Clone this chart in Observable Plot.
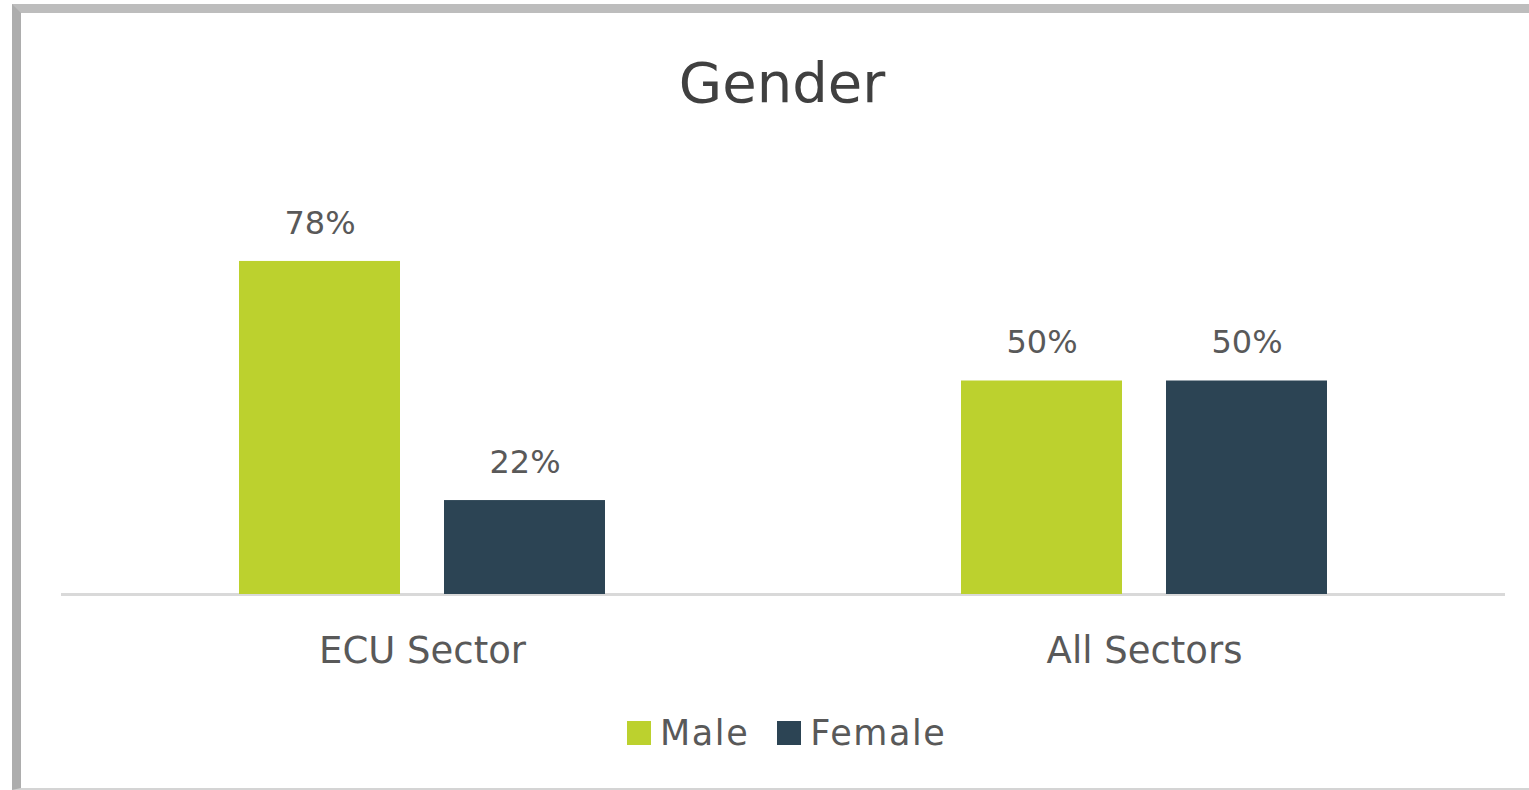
<!DOCTYPE html>
<html>
<head>
<meta charset="utf-8">
<script src="https://cdn.jsdelivr.net/npm/d3@7"></script>
<script src="https://cdn.jsdelivr.net/npm/@observablehq/plot@0.6"></script>
<style>
  body { margin: 0; background: #fff; width: 1529px; height: 790px; overflow: hidden; position: relative; font-family: "DejaVu Sans", sans-serif; }
  #frame { position: absolute; left: 12px; top: 4px; width: 1530px; height: 786px; box-sizing: border-box;
           border-top: 9px solid #bdbdbd; border-left: 9px solid #adadad; border-bottom: 2px solid #d4d4d4; }
  #title { position: absolute; left: 582px; top: 48px; width: 400px; text-align: center; font-size: 56px; color: #404040; line-height: 70px; }
  #chart { position: absolute; left: 0; top: 140px; }
  #legend { position: absolute; left: 627px; top: 712px; height: 42px; display: flex; align-items: center; font-size: 35px; color: #595959; letter-spacing: 1.6px; }
  .sw { width: 24px; height: 24px; display: inline-block; margin-right: 9px; }
  .item { display: flex; align-items: center; margin-right: 28px; }
</style>
</head>
<body>
<div id="frame"></div>
<div id="title">Gender</div>
<div id="chart"></div>
<div id="legend"></div>
<script>
const categories = ["ECU Sector", "All Sectors"];
const genders = ["Male", "Female"];
const maleValues = [78, 50];
const femaleValues = [22, 50];
const colors = ["#bcd12e", "#2c4454"];

const data = [];
categories.forEach((c, i) => {
  data.push({category: c, gender: "Male", value: maleValues[i]});
  data.push({category: c, gender: "Female", value: femaleValues[i]});
});

const chart = Plot.plot({
  width: 1529,
  height: 560,
  marginLeft: 60,
  marginRight: 24,
  marginTop: 27,
  marginBottom: 106,
  fx: {domain: categories, padding: 0, axis: null},
  x: {domain: genders, paddingInner: 0.2136, paddingOuter: 0.86, axis: null},
  y: {domain: [0, 100], axis: null},
  color: {domain: genders, range: colors},
  style: {fontFamily: "DejaVu Sans, sans-serif", background: "transparent"},
  marks: [
    Plot.ruleY([0], {stroke: "#d9d9d9", strokeWidth: 3}),
    Plot.barY(data, {fx: "category", x: "gender", y: "value", fill: "gender"}),
    Plot.text(data, {fx: "category", x: "gender", y: "value", text: d => d.value + "%", dy: -38, fontSize: 32, fill: "#595959"}),
    Plot.text(categories, {fx: d => d, text: d => d, frameAnchor: "bottom", dy: 68, fontSize: 37, fill: "#595959"})
  ]
});
document.getElementById("chart").appendChild(chart);

const legend = document.getElementById("legend");
genders.forEach((g, i) => {
  const item = document.createElement("div");
  item.className = "item";
  const sw = document.createElement("span");
  sw.className = "sw";
  sw.style.background = colors[i];
  item.appendChild(sw);
  item.appendChild(document.createTextNode(g));
  legend.appendChild(item);
});
</script>
</body>
</html>
